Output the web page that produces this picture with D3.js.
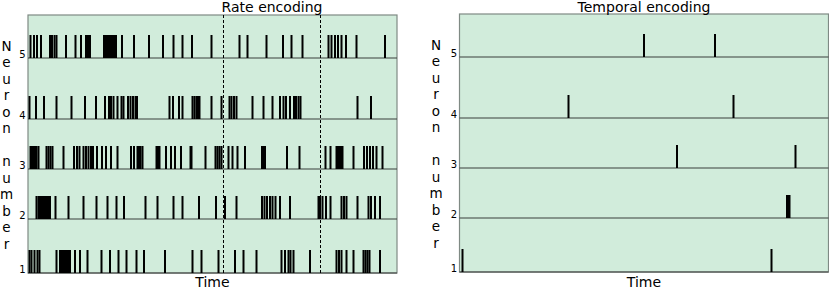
<!DOCTYPE html>
<html>
<head>
<meta charset="utf-8">
<script src="https://cdn.jsdelivr.net/npm/d3@7"></script>
<style>
  body { margin: 0; background: #fff; }
  text { font-family: "DejaVu Sans", sans-serif; fill: #000; }
</style>
</head>
<body>
<div class="chart"></div>
<script>
// neuron ids, bottom to top
const neurons = [1, 2, 3, 4, 5];
const yLabelChars = "Neuron number".split("");

// spike times (ms) for the rate-encoding panel
const rateSpikes = {
  5: [2.5, 6, 9, 13, 22, 24, 26.5, 28.5, 38, 47.5, 53, 58, 60, 62, 76, 78, 80, 82, 84, 86, 88, 94, 106, 121, 135, 145.5, 154.5, 164, 183.5, 211.5, 219.5, 238.5, 255, 263.5, 274.5, 300.5, 303.5, 307, 310, 313.5, 318, 328.5, 357],
  4: [1.5, 8, 16, 28.5, 43.5, 57, 68, 77, 81, 83, 85.5, 89.5, 93.5, 95.5, 100, 102.5, 105, 107.5, 109, 141.5, 145, 151, 154.5, 164.5, 166.5, 168.5, 170, 171.5, 183.5, 193.5, 201.5, 203.5, 206, 208.5, 224.5, 235.5, 244.5, 252, 255.5, 258, 262, 266, 268, 270.5, 272.5, 329.5, 343],
  3: [2.5, 4, 5.5, 7, 8.5, 10.5, 18.5, 20.5, 22.5, 24.5, 35.5, 46, 49, 51.5, 55.5, 58, 60.5, 63, 65, 69, 74, 78, 83, 89.5, 103, 106, 109.5, 111, 112.5, 114.5, 128.5, 130, 131.5, 138, 143, 147, 153, 162.5, 163.5, 177.5, 187.5, 189.5, 191.5, 193.5, 200.5, 204.5, 209.5, 217, 234, 235.5, 237, 259, 271.5, 297.5, 302.5, 308.5, 310, 311.5, 313, 314.5, 325.5, 336, 339, 342, 345, 348.5, 354.5],
  2: [8.5, 10.5, 12, 14, 15.5, 17, 18.5, 20, 22, 27.5, 40.5, 55.5, 68.5, 79.5, 88.5, 96, 117.5, 129.5, 145.5, 154.5, 171, 188, 197, 208.5, 234, 236.5, 239, 242, 244.5, 247.5, 252, 262, 290.5, 292, 294.5, 298, 302.5, 313.5, 316, 318.5, 329.5, 340.5, 343, 347, 352],
  1: [1.5, 3.5, 6.5, 9.5, 11.5, 28.5, 32, 34, 36, 38, 40, 42, 47, 52, 59.5, 73.5, 82, 90.5, 98.5, 108.5, 116, 137, 164.5, 173.5, 190.5, 207, 215.5, 228.5, 253.5, 257, 260.5, 262.5, 265.5, 282, 308.5, 311, 313.5, 318.5, 325.5, 335.5, 337.5, 339.5, 341.5, 352]
};
// dashed markers in the rate panel (ms)
const rateMarkers = [195.5, 292.5];

// spike times (ms) for the temporal-encoding panel
const temporalSpikes = {
  5: [184.5, 255.5],
  4: [109, 274],
  3: [217.5, 336],
  2: [327.5, 329.5, 330],
  1: [3, 312]
};

const timeDomain = [0, 369];

const width = 829, height = 289;
const svg = d3.select(".chart").append("svg")
  .attr("width", width)
  .attr("height", height);

// rows are not evenly spaced in the original figure
const yScale = d3.scaleLinear()
  .domain([1, 2, 3, 4, 5, 5.7])
  .range([273, 219, 169, 119, 58, 15]);

const spikeLen = 23;

function drawPanel(opts) {
  const g = svg.append("g").attr("transform", `translate(0, ${opts.dy})`);
  const xScale = d3.scaleLinear().domain(timeDomain).range(opts.xRange);
  const top = yScale(5.7), bottom = yScale(1);

  g.append("rect")
    .attr("x", opts.xRange[0])
    .attr("y", top)
    .attr("width", opts.xRange[1] - opts.xRange[0])
    .attr("height", bottom - top)
    .attr("fill", "#d1ecdb")
    .attr("stroke", "#7f8a84")
    .attr("stroke-width", 1.2);

  // baselines for each neuron
  g.selectAll(".row")
    .data(neurons)
    .join("line")
    .attr("class", "row")
    .attr("x1", opts.xRange[0])
    .attr("x2", opts.xRange[1])
    .attr("y1", d => yScale(d))
    .attr("y2", d => yScale(d))
    .attr("stroke", "#3a3f3c")
    .attr("stroke-width", 1.2);

  // spikes
  const flat = [];
  neurons.forEach(n => opts.spikes[n].forEach(t => flat.push({n: n, t: t})));
  g.selectAll(".spike")
    .data(flat)
    .join("line")
    .attr("class", "spike")
    .attr("x1", d => xScale(d.t))
    .attr("x2", d => xScale(d.t))
    .attr("y1", d => yScale(d.n))
    .attr("y2", d => yScale(d.n) - spikeLen)
    .attr("stroke", "#000")
    .attr("stroke-width", 2);

  if (opts.markers) {
    g.selectAll(".marker")
      .data(opts.markers)
      .join("line")
      .attr("class", "marker")
      .attr("x1", d => xScale(d))
      .attr("x2", d => xScale(d))
      .attr("y1", top)
      .attr("y2", bottom)
      .attr("stroke", "#000")
      .attr("stroke-width", 1)
      .attr("stroke-dasharray", "3,2");
  }

  const yAxis = d3.axisLeft(yScale)
    .tickValues(neurons)
    .tickSize(0)
    .tickPadding(2.5)
    .tickFormat(d3.format("d"));
  const ax = g.append("g")
    .attr("transform", `translate(${opts.xRange[0]}, 0)`)
    .call(yAxis);
  ax.select(".domain").remove();
  ax.selectAll("text")
    .attr("dy", "-0.1em")
    .style("font-size", "10px")
    .style("font-family", "DejaVu Sans, sans-serif");

  // stacked y label
  g.append("g")
    .selectAll("text")
    .data(yLabelChars)
    .join("text")
    .attr("x", opts.labelX)
    .attr("y", (d, i) => 50.5 + i * 16.5)
    .attr("text-anchor", "middle")
    .style("font-size", "13.5px")
    .text(d => d);

  g.append("text")
    .attr("x", opts.titleX)
    .attr("y", 12 - opts.dy)
    .attr("text-anchor", "middle")
    .style("font-size", "14px")
    .text(opts.title);

  g.append("text")
    .attr("x", xScale(timeDomain[0] + (timeDomain[1] - timeDomain[0]) / 2))
    .attr("y", 287 - opts.dy)
    .attr("text-anchor", "middle")
    .style("font-size", "14px")
    .text("Time");
}

drawPanel({
  xRange: [28, 397], dy: 0, spikes: rateSpikes, markers: rateMarkers,
  title: "Rate encoding", titleX: 272, labelX: 6.5
});
drawPanel({
  xRange: [459.5, 828.5], dy: -1, spikes: temporalSpikes,
  title: "Temporal encoding", titleX: 644, labelX: 436
});
</script>
</body>
</html>
